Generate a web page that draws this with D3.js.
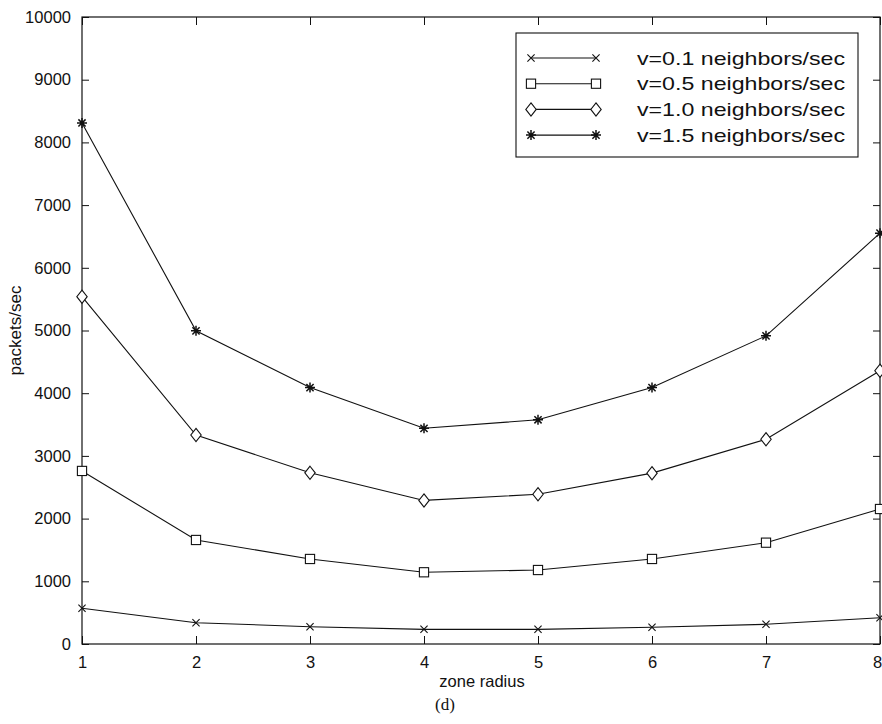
<!DOCTYPE html>
<html>
<head>
<meta charset="utf-8">
<script src="https://cdn.jsdelivr.net/npm/d3@7"></script>
<style>
  html, body { margin: 0; padding: 0; background: #fff; }
  svg { display: block; }
</style>
</head>
<body>
<svg id="chart" width="882" height="724"></svg>
<script>
// Zone radius on the x axis
const zoneRadius = [1, 2, 3, 4, 5, 6, 7, 8];

// Control traffic (packets/sec) for each neighbor acquisition rate
const v01 = [569, 340, 276, 234, 234, 266, 314, 419];
const v05 = [2760, 1659, 1356, 1144, 1180, 1356, 1616, 2153];
const v10 = [5540, 3333, 2730, 2290, 2388, 2725, 3265, 4358];
const v15 = [8310, 4995, 4090, 3440, 3576, 4090, 4915, 6552];

const seriesLabels = [
  "v=0.1 neighbors/sec",
  "v=0.5 neighbors/sec",
  "v=1.0 neighbors/sec",
  "v=1.5 neighbors/sec"
];
const seriesMarkers = ["cross", "square", "diamond", "star"];

const yTicks = [0, 1000, 2000, 3000, 4000, 5000, 6000, 7000, 8000, 9000, 10000];
const xLabel = "zone radius";
const yLabel = "packets/sec";
const caption = "(d)";

const series = [v01, v05, v10, v15].map((vals, i) => ({
  label: seriesLabels[i],
  marker: seriesMarkers[i],
  values: vals
}));

const svg = d3.select("#chart");
const ink = "#111";

const x = d3.scaleLinear().domain([1, 8]).range([82, 880]);
const y = d3.scaleLinear().domain([0, 10000]).range([644, 17]);

const font = "'Liberation Sans', Arial, Helvetica, sans-serif";

// Marker drawing
function drawMarker(g, type, cx, cy) {
  const s = g.append("g").attr("transform", `translate(${cx},${cy})`)
    .attr("fill", "none").attr("stroke", ink).attr("stroke-width", 1.1);
  if (type === "cross") {
    const r = 3.6;
    s.append("path").attr("d", `M${-r},${-r}L${r},${r}M${-r},${r}L${r},${-r}`);
  } else if (type === "square") {
    const r = 4.6;
    s.append("rect").attr("x", -r).attr("y", -r).attr("width", 2 * r).attr("height", 2 * r)
      .attr("fill", "#fff");
  } else if (type === "diamond") {
    const w = 5.2, h = 6.6;
    s.append("path").attr("d", `M0,${-h}L${w},0L0,${h}L${-w},0Z`).attr("fill", "#fff");
  } else if (type === "star") {
    const r = 5;
    const d = r * 0.72;
    s.attr("stroke-width", 1.5);
    s.append("path").attr("d",
      `M0,${-r}L0,${r}M${-r},0L${r},0M${-d},${-d}L${d},${d}M${-d},${d}L${d},${-d}`);
  }
}

// Plot box
svg.append("rect")
  .attr("x", x(1)).attr("y", y(10000))
  .attr("width", x(8) - x(1)).attr("height", y(0) - y(10000))
  .attr("fill", "none").attr("stroke", ink).attr("stroke-width", 1.2);

// Axes with inward ticks on all four sides
const axisBottom = d3.axisBottom(x).tickValues(zoneRadius).tickSize(-8).tickPadding(12)
  .tickFormat(d3.format("d"));
const axisTop = d3.axisTop(x).tickValues(zoneRadius).tickSize(-8).tickFormat("");
const axisLeft = d3.axisLeft(y).tickValues(yTicks).tickSize(-7).tickPadding(11)
  .tickFormat(d3.format("d"));
const axisRight = d3.axisRight(y).tickValues(yTicks).tickSize(-7).tickFormat("");

function styleAxis(g) {
  g.select(".domain").remove();
  g.selectAll(".tick line").attr("stroke", ink).attr("stroke-width", 1);
  g.selectAll(".tick text").attr("fill", ink)
    .style("font-family", font).style("font-size", "16.5px");
}

const gx = svg.append("g").attr("transform", `translate(0,${y(0)})`).call(axisBottom).call(styleAxis);
// keep the last x label inside the drawing area
gx.selectAll(".tick text").filter(d => d === 8).attr("dx", "-3");
svg.append("g").attr("transform", `translate(0,${y(10000)})`).call(axisTop).call(styleAxis);
svg.append("g").attr("transform", `translate(${x(1)},0)`).call(axisLeft).call(styleAxis);
svg.append("g").attr("transform", `translate(${x(8)},0)`).call(axisRight).call(styleAxis);

// Series lines and markers
const line = d3.line().x((d, i) => x(zoneRadius[i])).y(d => y(d));
series.forEach(s => {
  svg.append("path").datum(s.values).attr("d", line)
    .attr("fill", "none").attr("stroke", ink).attr("stroke-width", 1.1);
  const g = svg.append("g");
  s.values.forEach((v, i) => drawMarker(g, s.marker, x(zoneRadius[i]), y(v)));
});

// Axis labels
svg.append("text")
  .attr("x", (x(1) + x(8)) / 2 + 1).attr("y", 687)
  .attr("text-anchor", "middle").attr("fill", ink)
  .style("font-family", font).style("font-size", "16.5px")
  .text(xLabel);

svg.append("text")
  .attr("transform", `translate(21,${(y(0) + y(10000)) / 2}) rotate(-90)`)
  .attr("text-anchor", "middle").attr("fill", ink)
  .style("font-family", font).style("font-size", "17px")
  .text(yLabel);

svg.append("text")
  .attr("x", 445).attr("y", 710)
  .attr("text-anchor", "middle").attr("fill", ink)
  .style("font-family", "'Liberation Serif', 'Times New Roman', serif").style("font-size", "17px")
  .text(caption);

// Legend
const legend = svg.append("g");
legend.append("rect")
  .attr("x", 516).attr("y", 33).attr("width", 342).attr("height", 124)
  .attr("fill", "#fff").attr("stroke", ink).attr("stroke-width", 1.1);
series.forEach((s, i) => {
  const ly = 58 + i * 25.7;
  legend.append("line")
    .attr("x1", 531).attr("x2", 596).attr("y1", ly).attr("y2", ly)
    .attr("stroke", ink).attr("stroke-width", 1.1);
  drawMarker(legend, s.marker, 531, ly);
  drawMarker(legend, s.marker, 596, ly);
  legend.append("text")
    .attr("x", 637).attr("y", ly + 6.5)
    .attr("fill", ink)
    .attr("textLength", 208).attr("lengthAdjust", "spacingAndGlyphs")
    .style("font-family", font).style("font-size", "19px")
    .text(s.label);
});
</script>
</body>
</html>
